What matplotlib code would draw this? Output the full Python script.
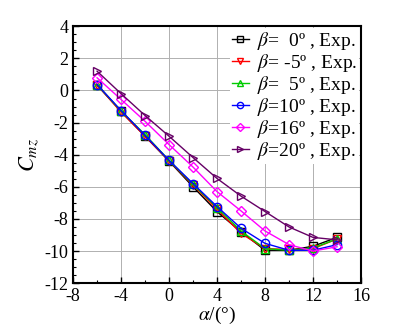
import numpy as np
import matplotlib.pyplot as plt
from matplotlib.ticker import MultipleLocator

plt.rcParams['font.family'] = ['Liberation Serif', 'DejaVu Serif']
plt.rcParams['mathtext.fontset'] = 'stix'
plt.rcParams['axes.unicode_minus'] = False

alpha = [-6, -4, -2, 0, 2, 4, 6, 8, 10, 12, 14]
cmz_b0 = [0.33, -1.30, -2.85, -4.40, -6.00, -7.55, -8.80, -9.95, -9.95, -9.70, -9.15]
cmz_bm5 = [0.35, -1.35, -2.85, -4.38, -5.90, -7.40, -8.90, -9.85, -9.90, -9.85, -9.25]
cmz_b5 = [0.37, -1.28, -2.75, -4.35, -5.85, -7.30, -8.75, -9.85, -9.95, -9.80, -9.25]
cmz_b10 = [0.37, -1.25, -2.80, -4.35, -5.80, -7.23, -8.58, -9.52, -9.95, -9.95, -9.60]
cmz_b16 = [0.79, -0.56, -1.92, -3.37, -4.77, -6.30, -7.50, -8.75, -9.60, -10.00, -9.73]
cmz_b20 = [1.20, -0.20, -1.56, -2.85, -4.18, -5.48, -6.58, -7.54, -8.50, -9.15, -9.30]

series = [
    (cmz_b0, 'k', 's', r'$\beta$=  0º , Exp.'),
    (cmz_bm5, 'red', 'v', r'$\beta$= -5º , Exp.'),
    (cmz_b5, '#00cc00', '^', r'$\beta$=  5º , Exp.'),
    (cmz_b10, 'blue', 'o', r'$\beta$=10º , Exp.'),
    (cmz_b16, 'magenta', 'D', r'$\beta$=16º , Exp.'),
    (cmz_b20, '#660066', '>', r'$\beta$=20º , Exp.'),
]

fig = plt.figure(figsize=(3.95, 3.32), dpi=100)
ax = fig.add_axes([0.185, 0.147, 0.729, 0.774])

for y, c, m, lab in series:
    ms = 5 if m == 'D' else 6
    ax.plot(alpha, y, color=c, marker=m, mfc='none', mec=c, ms=ms,
            lw=1.0, mew=1.0, label=lab)

ax.set_xlim(-8, 16)
ax.set_ylim(-12, 4)
ax.xaxis.set_major_locator(MultipleLocator(4))
ax.xaxis.set_minor_locator(MultipleLocator(2))
ax.yaxis.set_major_locator(MultipleLocator(2))
ax.yaxis.set_minor_locator(MultipleLocator(0.5))
ax.grid(True, which='major', color='#b0b0b0', lw=0.7)
ax.set_axisbelow(True)
ax.tick_params(which='both', direction='in', labelsize=13, top=False, right=False)
ax.tick_params(which='major', length=4, width=1)
ax.tick_params(which='minor', length=2, width=0.8)
for s in ax.spines.values():
    s.set_linewidth(1.5)

ax.set_xlabel(r'$\alpha$/(°)', fontsize=14, labelpad=0)
ax.set_ylabel(r'$C_{mz}$', fontsize=16, labelpad=2)

leg = ax.legend(loc='upper right', fontsize=14, frameon=True, framealpha=1,
                edgecolor='none', handlelength=0.9, handletextpad=0.4,
                labelspacing=0.0, borderaxespad=0.1, borderpad=0.1,
                markerscale=0.75)
leg.get_frame().set_linewidth(0)

fig.savefig('out.png', dpi=100)
